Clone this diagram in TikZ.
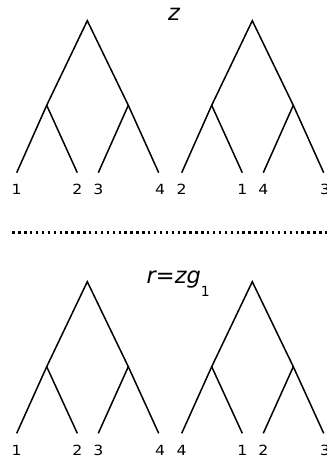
\documentclass[tikz,border=0pt]{standalone}
\usepackage{fontspec}
\setmainfont{DejaVu Sans}
\newcommand\widelab[1]{\scalebox{1.12}[1]{#1}}
\begin{document}
\begin{tikzpicture}[x=1pt,y=-1pt,
  edge/.style={line width=1.5pt},
  leaflab/.style={anchor=base,inner sep=0pt,font=\fontsize{14}{16}\selectfont},
  title/.style={anchor=base,inner sep=0pt,font=\fontsize{22.5}{24}\selectfont\itshape}]
\useasboundingbox (0,0) rectangle (327,464);
% tree builder
\newcommand\mytree[9]{%
  % #1 prefix, #2 root y, #3 int y, #4 leaf y, #5 x shift, #6-#9 labels
  \coordinate (#1r) at (#5+87.3,#2);
  \coordinate (#1a) at (#5+46.7,#3);
  \coordinate (#1b) at (#5+128.3,#3);
  \coordinate (#1l1) at (#5+16.7,#4);
  \coordinate (#1l2) at (#5+77.3,#4);
  \coordinate (#1l3) at (#5+98.3,#4);
  \coordinate (#1l4) at (#5+158.7,#4);
  \draw[edge] (#1l1) -- (#1a) -- (#1r) -- (#1b) -- (#1l4);
  \draw[edge] (#1a) -- (#1l2);
  \draw[edge] (#1b) -- (#1l3);
  \node[leaflab] (#1t1) at ([yshift=-21.7pt]#1l1) {\widelab{#6}};
  \node[leaflab] (#1t2) at ([yshift=-21.7pt]#1l2) {\widelab{#7}};
  \node[leaflab] (#1t3) at ([yshift=-21.7pt]#1l3) {\widelab{#8}};
  \node[leaflab] (#1t4) at ([xshift=1.5pt,yshift=-21.7pt]#1l4) {\widelab{#9}};
}
\mytree{A}{20.7}{105.3}{172.7}{0}{1}{2}{3}{4}
\mytree{B}{20.7}{105.3}{172.7}{165}{2}{1}{4}{3}
\mytree{C}{281.7}{366.7}{433.3}{0}{1}{2}{3}{4}
\mytree{D}{281.7}{366.7}{433.3}{165}{4}{1}{2}{3}
\node[title] (z) at (174,20) {z};
\node[title,anchor=base west] (r) at (146.5,283) {r=zg\raisebox{-13pt}{\fontsize{14}{16}\selectfont\upshape 1}};
\coordinate (dl) at (12.3,232.3);
\coordinate (dr) at (330,232.3);
\draw[line width=2.4pt,dash pattern=on 2.4pt off 3.5pt] (dl) -- (dr);
\end{tikzpicture}
\end{document}
